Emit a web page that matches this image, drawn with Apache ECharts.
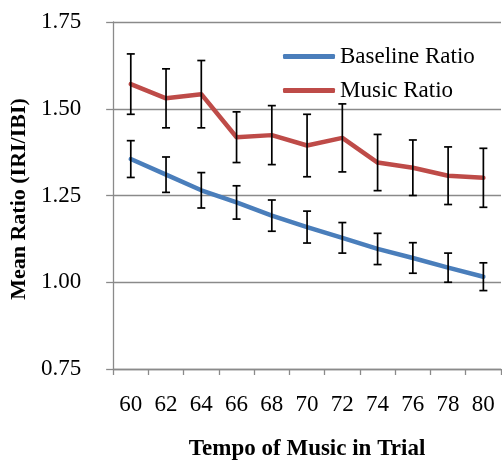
<!DOCTYPE html>
<html>
<head>
<meta charset="utf-8">
<script src="https://cdn.jsdelivr.net/npm/echarts@6/dist/echarts.min.js"></script>
<style>html,body{margin:0;padding:0;background:#fff;}#c{width:502px;height:466px;}</style>
</head>
<body>
<div id="c"></div>
<script>
const categories = ['60','62','64','66','68','70','72','74','76','78','80'];
const baseline = [1.355,1.310,1.265,1.230,1.192,1.159,1.128,1.096,1.070,1.042,1.016];
const baselineErr = [0.053,0.051,0.051,0.048,0.045,0.046,0.044,0.045,0.044,0.042,0.040];
const music = [1.571,1.530,1.542,1.418,1.424,1.394,1.416,1.345,1.330,1.307,1.301];
const musicErr = [0.087,0.085,0.097,0.073,0.085,0.090,0.098,0.081,0.080,0.083,0.085];
const yTicks = [0.75,1.00,1.25,1.50,1.75];

const FONT = '"Liberation Serif","Times New Roman",serif';
const GRAY = '#8a8a8a';

function errData(vals, errs){
  return vals.map((v,i)=>[i, v-errs[i], v+errs[i]]);
}
function renderErr(params, api){
  const x = api.value(0);
  const lo = api.coord([x, api.value(1)]);
  const hi = api.coord([x, api.value(2)]);
  const cap = 4;
  const st = {stroke:'#000', lineWidth:1.7};
  return {type:'group', children:[
    {type:'line', shape:{x1:lo[0],y1:lo[1],x2:hi[0],y2:hi[1]}, style:st},
    {type:'line', shape:{x1:hi[0]-cap,y1:hi[1],x2:hi[0]+cap,y2:hi[1]}, style:st},
    {type:'line', shape:{x1:lo[0]-cap,y1:lo[1],x2:lo[0]+cap,y2:lo[1]}, style:st}
  ]};
}

const chart = echarts.init(document.getElementById('c'), null, {renderer:'canvas'});
chart.setOption({
  animation:false,
  backgroundColor:'#fff',
  grid:{left:112, right:1, top:22, bottom:89, containLabel:false},
  legend:{
    orient:'vertical', left:278, top:40, itemGap:11,
    itemWidth:52, itemHeight:5, icon:'roundRect',
    textStyle:{fontFamily:FONT, fontSize:23, color:'#000'},
    data:['Baseline Ratio','Music Ratio']
  },
  xAxis:{
    type:'category', data:categories, boundaryGap:true,
    name:'Tempo of Music in Trial', nameLocation:'middle', nameGap:69,
    nameTextStyle:{fontFamily:FONT, fontSize:23, fontWeight:'bold', color:'#000'},
    axisLine:{lineStyle:{color:GRAY, width:1.3}},
    axisTick:{show:true, alignWithLabel:false, length:6, lineStyle:{color:GRAY, width:1.3}},
    axisLabel:{fontFamily:FONT, fontSize:23, color:'#000', margin:24},
    splitLine:{show:false}
  },
  yAxis:{
    type:'value', min:0.75, max:1.75, interval:0.25,
    name:'Mean Ratio (IRI/IBI)', nameLocation:'middle', nameGap:79,
    nameTextStyle:{fontFamily:FONT, fontSize:22, fontWeight:'bold', color:'#000', padding:[0,7,0,0]},
    axisLine:{show:true, lineStyle:{color:GRAY, width:1.3}},
    axisTick:{show:true, length:7, lineStyle:{color:GRAY, width:1.3}},
    axisLabel:{fontFamily:FONT, fontSize:23, color:'#000', margin:32,
      formatter:(v)=>{const t=yTicks.find(x=>Math.abs(x-v)<1e-9);return (t!==undefined?t:v).toFixed(2);}},
    splitLine:{show:true, lineStyle:{color:GRAY, width:1.3}}
  },
  series:[
    {name:'Baseline Ratio', type:'line', data:baseline, symbol:'none', showSymbol:false,
      lineStyle:{color:'#4a7ebb', width:4.5, cap:'round', join:'round'}, itemStyle:{color:'#4a7ebb'}, z:3},
    {name:'Music Ratio', type:'line', data:music, symbol:'none', showSymbol:false,
      lineStyle:{color:'#be4b48', width:4.5, cap:'round', join:'round'}, itemStyle:{color:'#be4b48'}, z:3},
    {type:'custom', renderItem:renderErr, data:errData(baseline, baselineErr), z:5, encode:{x:0, y:[1,2]}},
    {type:'custom', renderItem:renderErr, data:errData(music, musicErr), z:5, encode:{x:0, y:[1,2]}}
  ]
});
</script>
</body>
</html>
